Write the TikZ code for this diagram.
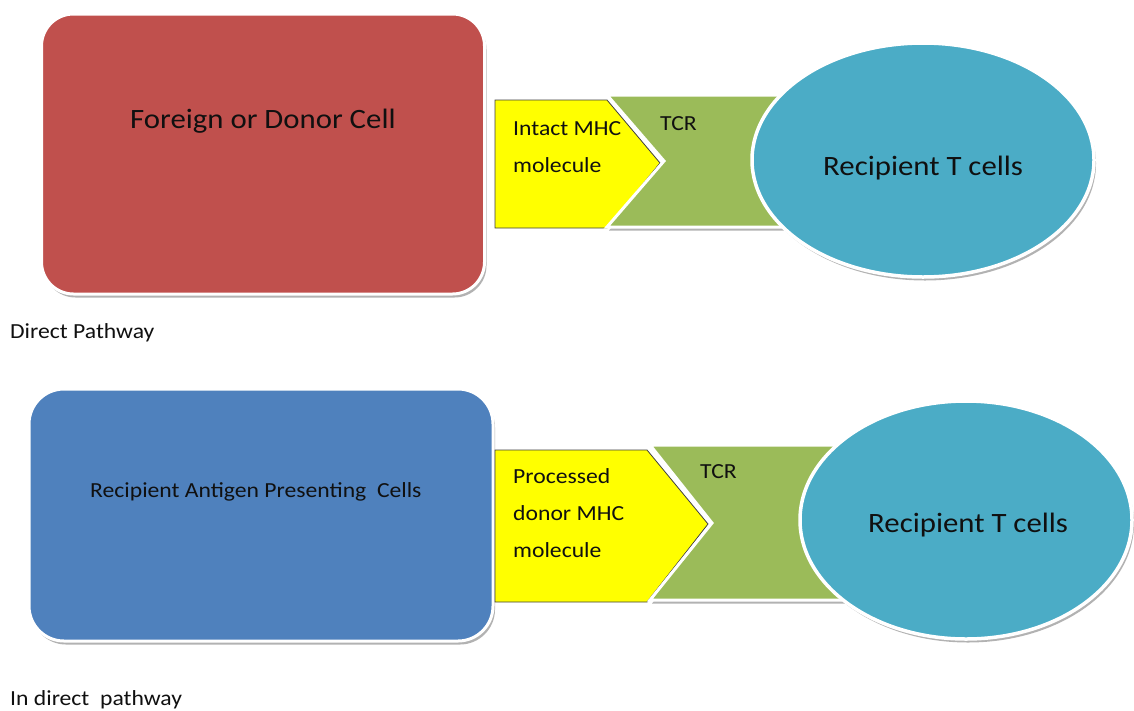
\documentclass[tikz,border=0pt]{standalone}
\usepackage{fontspec}
\setmainfont{Carlito}[FakeStretch=1.1]
\usetikzlibrary{shapes.geometric,shadows}
\definecolor{cellred}{HTML}{C0504D}
\definecolor{cellblue}{HTML}{4F81BD}
\definecolor{mhcyellow}{HTML}{FFFF00}
\definecolor{tcrgreen}{HTML}{9BBB59}
\definecolor{tcell}{HTML}{4BACC6}
\definecolor{ink}{HTML}{101010}
\begin{document}
\begin{tikzpicture}[x=1pt,y=-1pt,
  shade/.style={drop shadow={shadow xshift=2pt,shadow yshift=-3.5pt,opacity=.55,fill=black!55}},
  cellbox/.style={rectangle,draw=white,line width=3pt,shade,inner sep=0pt},
  tcellnode/.style={ellipse,draw=white,line width=3.5pt,fill=tcell,shade,inner sep=0pt},
  mhc/.style={fill=mhcyellow,draw=black!75,line width=0.8pt},
  tcr/.style={fill=tcrgreen,draw=white,line width=3pt,shade},
  big/.style={text=ink,inner sep=0pt,font=\fontsize{28}{34}\selectfont},
  small/.style={text=ink,inner sep=0pt,font=\fontsize{21.5}{26}\selectfont},
]
\useasboundingbox[fill=white] (0,0) rectangle (1134,710);

% ---------- Direct pathway ----------
\node[cellbox,fill=cellred,rounded corners=32pt,minimum width=443pt,minimum height=280pt] (donor) at (263,154) {};
\node[big,anchor=base west] (donortxt) at (130,128) {Foreign or Donor Cell};

\path[mhc] (495,100) -- (607,100) -- (660,163) -- (607,228) -- (495,228) -- cycle;
\path[tcr] (607,95) -- (810,95) -- (810,227) -- (607,227) -- (664,161) -- cycle;
\node[small,anchor=base west] (mhc1a) at (513,135) {Intact MHC};
\node[small,anchor=base west] (mhc1b) at (513,172) {molecule};
\node[small,anchor=base west] (tcr1) at (660,130) {TCR};

\node[tcellnode,minimum width=342pt,minimum height=234pt] (tc1) at (923,160) {};
\node[big,anchor=base west] (tc1txt) at (823,175) {Recipient T cells};

\node[small,anchor=base west] (direct) at (10,338) {Direct Pathway};

% ---------- Indirect pathway ----------
\node[cellbox,fill=cellblue,rounded corners=35pt,minimum width=464pt,minimum height=252pt] (apc) at (261,515) {};
\node[small,anchor=base west] (apctxt) at (90,497) {Recipient Antigen Presenting\ \ Cells};

\path[mhc] (495,450) -- (647,450) -- (708,524) -- (647,602) -- (495,602) -- cycle;
\path[tcr] (650,445) -- (850,445) -- (850,600) -- (650,600) -- (712,523) -- cycle;
\node[small,anchor=base west] (mhc2a) at (513,483) {Processed};
\node[small,anchor=base west] (mhc2b) at (513,520) {donor MHC};
\node[small,anchor=base west] (mhc2c) at (513,557) {molecule};
\node[small,anchor=base west] (tcr2) at (700,478) {TCR};

\node[tcellnode,minimum width=332pt,minimum height=238pt] (tc2) at (966,520) {};
\node[big,anchor=base west] (tc2txt) at (868,532) {Recipient T cells};

\node[small,anchor=base west] (indirect) at (10,705) {In direct\ \ pathway};
\end{tikzpicture}
\end{document}
